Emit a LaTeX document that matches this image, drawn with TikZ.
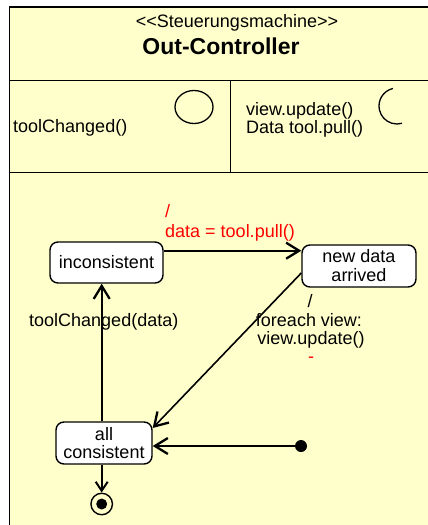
\documentclass[tikz,border=0pt]{standalone}
\usepackage{fontspec}
\setmainfont{Liberation Sans}
\usetikzlibrary{arrows.meta}
\definecolor{umlyellow}{HTML}{FFFFCC}
\begin{document}
\begin{tikzpicture}[x=1pt,y=-1pt,
  every node/.style={inner sep=0pt, font=\fontsize{18}{19}\selectfont},
  state/.style={draw, fill=white, rounded corners=8pt, line width=1.4pt, align=center},
  trans/.style={line width=1.6pt, -{Straight Barb[length=13pt,width=16pt,line width=2.3pt]}},
  smalltrans/.style={line width=1.6pt, -{Straight Barb[length=9pt,width=12pt,line width=2pt]}},
  frameline/.style={line width=1.3pt},
  lbl/.style={align=center},
  redlbl/.style={text=red, anchor=west}]
\useasboundingbox (0,0) rectangle (428,525);
\clip (0,0) rectangle (428,525);
\fill[white] (0,0) rectangle (428,525);
\draw[fill=umlyellow, line width=1.5pt] (9.5,7) rectangle (460,560);
\draw[frameline] (9.5,80.7) -- (460,80.7);
\draw[frameline] (9.5,172.7) -- (460,172.7);
\draw[frameline] (230.7,80.7) -- (230.7,172.7);
% header
\node (stereo) at (237,23) {<\kern0pt<Steuerungsmachine>\kern0pt>};
\node[font=\fontsize{23}{24}\selectfont\bfseries] (title) at (221,46) {Out-Controller};
% compartments
\draw[line width=1.3pt] (194,107) ellipse (19pt and 16.5pt);
\node[anchor=west] (tc) at (13,128) {toolChanged()};
\node[anchor=west, align=left, font=\fontsize{18}{16.7}\selectfont] (ops) at (246,120) {view.update()\\Data tool.pull()};
\draw[line width=1.3pt] (397,106) ++(103:18pt) arc[start angle=103,end angle=286,radius=18pt];
% states
\node[state, minimum width=113pt, minimum height=41pt] (inc) at (106.5,262.5) {inconsistent};
\node[state, minimum width=114pt, minimum height=42pt, font=\fontsize{18}{19}\selectfont] (nda) at (359,266) {new data\\arrived};
\node[state, minimum width=96pt, minimum height=42pt, font=\fontsize{18}{18.4}\selectfont] (allc) at (104,443) {all\\consistent};
\node[circle, fill=black, minimum size=12pt] (init) at (301,446) {};
\node[circle, draw, line width=1.4pt, minimum size=21.5pt] (fin) at (101.7,504) {};
\fill (fin.center) circle (5.5pt);
% helper coordinates
\coordinate (yA) at (0,250.7);
\coordinate (xB) at (101.7,0);
% transitions
\draw[trans] (inc.east |- yA) -- (nda.west |- yA);
\draw[trans] (allc.north -| xB) -- (inc.south -| xB);
\draw[trans] ([yshift=-7pt]nda.west) -- ([yshift=15pt]allc.east);
\draw[trans] (init) -- (allc.east |- init);
\draw[smalltrans] (allc.south -| fin) -- (fin.north);
% labels
\node[redlbl] (l1) at (165,211) {/};
\node[redlbl] (l2) at (165,233) {data = tool.pull()};
\node[anchor=west] (l3) at (29,322) {toolChanged(data)};
\node (l4) at (310,301) {/};
\node (l5) at (309,320) {foreach view:};
\node (l6) at (311,340) {view.update()};
\node[text=red] (l7) at (311,360) {-};
\end{tikzpicture}
\end{document}
